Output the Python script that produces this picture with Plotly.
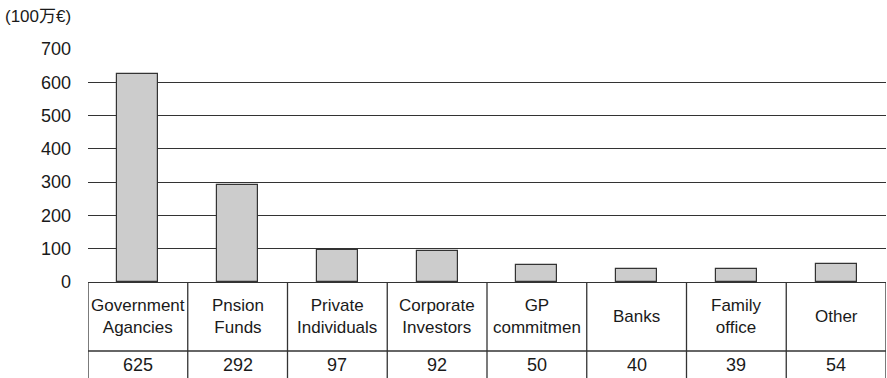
import plotly.graph_objects as go

categories = ["Government<br>Agancies", "Pnsion<br>Funds", "Private<br>Individuals",
              "Corporate<br>Investors", "GP<br>commitmen", "Banks", "Family<br>office", "Other"]
values = [625, 292, 97, 92, 50, 40, 39, 54]
y_ticks = [0, 100, 200, 300, 400, 500, 600, 700]
unit_label = "(100万€)"

W, H = 887, 378
ml, mr, mt, mb = 88, 1, 49, 96
plot_h = H - mt - mb
plot_w = W - ml - mr
n = len(categories)
xs = list(range(n))

line_col = "#333333"
txt_col = "#1a1a1a"
font_main = "Liberation Sans, Arial, sans-serif"

fig = go.Figure()
fig.add_trace(go.Bar(
    x=xs, y=values, width=0.41,
    marker=dict(color="#cccccc", line=dict(color=line_col, width=1.2)),
    hoverinfo="x+y",
))

row_sep = -69 / plot_h
bottom = -96 / plot_h

shapes = []
shapes.append(dict(type="line", xref="x", yref="paper", x0=-0.5, x1=n - 0.5,
                   y0=row_sep, y1=row_sep, line=dict(color=line_col, width=1.3)))
for i in range(n + 1):
    shapes.append(dict(type="line", xref="x", yref="paper", x0=i - 0.5, x1=i - 0.5,
                       y0=0, y1=bottom, line=dict(color=line_col, width=1.3)))

for i, (c, v) in enumerate(zip(categories, values)):
    fig.add_annotation(x=i, xref="x", y=(0 + row_sep) / 2, yref="paper",
                       text=c, showarrow=False, yanchor="middle",
                       font=dict(size=17, color=txt_col, family=font_main))
    fig.add_annotation(x=i, xref="x", y=(row_sep + bottom) / 2, yref="paper",
                       text=str(v), showarrow=False, yanchor="middle",
                       font=dict(size=18, color=txt_col, family=font_main))

fig.add_annotation(x=(3 - ml) / plot_w, xref="paper", xanchor="left",
                   y=(H - mb - 17) / plot_h, yref="paper", yanchor="middle",
                   text=unit_label, showarrow=False,
                   font=dict(size=17, color=txt_col,
                             family="Liberation Sans, Noto Sans CJK JP, sans-serif"))

fig.update_layout(
    width=W, height=H,
    margin=dict(l=ml, r=mr, t=mt, b=mb),
    plot_bgcolor="white", paper_bgcolor="white",
    showlegend=False,
    shapes=shapes,
    bargap=0,
)
fig.update_xaxes(range=[-0.5, n - 0.5], showticklabels=False, showgrid=False,
                 zeroline=False, showline=False, ticks="")
fig.update_yaxes(range=[0, 700], tickvals=y_ticks, showgrid=True, gridcolor=line_col,
                 gridwidth=1.3, zeroline=True, zerolinecolor=line_col, zerolinewidth=1.3,
                 showline=False, ticks="", ticklabelstandoff=16,
                 tickfont=dict(size=18, color=txt_col, family=font_main))

fig.write_html("out.html")
